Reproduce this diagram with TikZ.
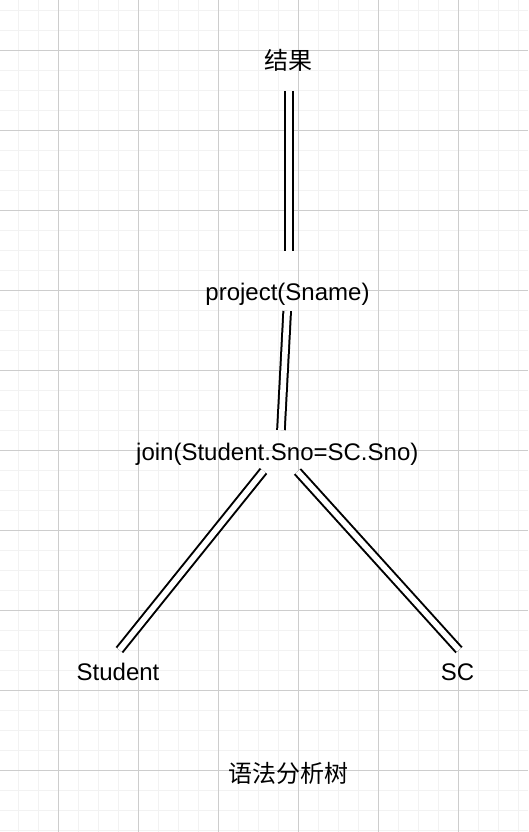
\documentclass[tikz,border=0pt]{standalone}
\usepackage{fontspec}
\setmainfont{Liberation Sans}
\newfontfamily\cjk{Noto Sans CJK SC}
\definecolor{minorgrid}{RGB}{242,242,242}
\definecolor{majorgrid}{RGB}{205,205,205}
\begin{document}
\begin{tikzpicture}[x=1pt,y=-1pt,
  lbl/.style={inner sep=0pt, outer sep=0pt, anchor=base, text height=17.5pt, text depth=5pt, font=\fontsize{24}{28}\selectfont},
  cjklbl/.style={lbl, font=\fontsize{24}{28}\selectfont\cjk},
  dbl/.style={draw=black, double=white, line width=2pt, double distance=5.6pt}]
\useasboundingbox (0,0) rectangle (528,832);
\fill[white] (0,0) rectangle (528,832);
% grid
\foreach \k in {0,...,25} {
  \draw[minorgrid, line width=1.5pt] ({18.3+20*\k},0) -- ({18.3+20*\k},832);
}
\foreach \k in {0,...,41} {
  \draw[minorgrid, line width=1.5pt] (0,{10.3+20*\k}) -- (528,{10.3+20*\k});
}
\foreach \k in {0,...,5} {
  \draw[majorgrid, line width=1pt] ({58.3+80*\k},0) -- ({58.3+80*\k},832);
}
\foreach \k in {0,...,9} {
  \draw[majorgrid, line width=1pt] (0,{50.3+80*\k}) -- (528,{50.3+80*\k});
}
% nodes
\node[cjklbl] (res) at (288,70) {结果};
\node[lbl] (proj) at (287.5,300) {project(Sname)};
\node[lbl] (join) at (277.3,460) {join(Student.Sno=SC.Sno)};
\node[lbl] (stu) at (118,680) {Student};
\node[lbl] (sc) at (457.5,680) {SC};
\node[cjklbl] (title) at (288,782.5) {语法分析树};
% connectors
\draw[dbl, shorten <=16pt, shorten >=31.8pt] ([xshift=0.7pt]res.south) -- ([xshift=0.7pt]res.south |- proj.north);
\draw[dbl, shorten <=6pt, shorten >=12.5pt] (proj.south) -- ([xshift=3pt]join.north);
\draw[dbl, shorten <=7.7pt, shorten >=16pt] ([xshift=-9pt]join.south) -- ([xshift=-8.6pt]stu.north);
\draw[dbl, shorten <=8.8pt, shorten >=16.9pt] ([xshift=14.3pt]join.south) -- ([xshift=12.8pt]sc.north);
\end{tikzpicture}
\end{document}
